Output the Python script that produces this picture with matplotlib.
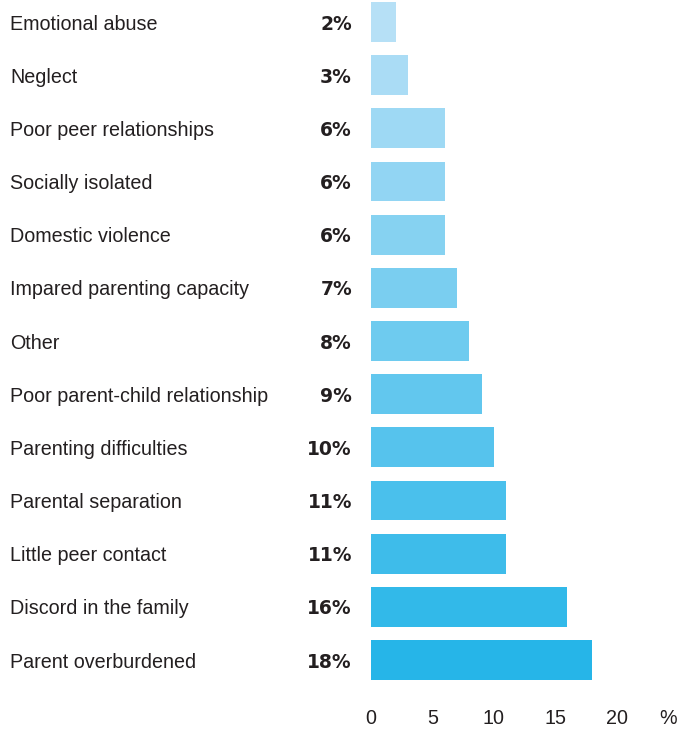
import matplotlib.pyplot as plt
import numpy as np
from matplotlib.colors import to_rgb
from matplotlib.transforms import blended_transform_factory

categories = ['Emotional abuse', 'Neglect', 'Poor peer relationships', 'Socially isolated',
              'Domestic violence', 'Impared parenting capacity', 'Other',
              'Poor parent-child relationship', 'Parenting difficulties', 'Parental separation',
              'Little peer contact', 'Discord in the family', 'Parent overburdened']
values = [2, 3, 6, 6, 6, 7, 8, 9, 10, 11, 11, 16, 18]
xticks = [0, 5, 10, 15, 20]

plt.rcParams['font.family'] = ['Liberation Sans', 'DejaVu Sans']
txt = '#231f20'

W, H = 679, 731
fig = plt.figure(figsize=(W / 100, H / 100), dpi=100)
ax = fig.add_axes([371 / W, (H - 690) / H, (W - 371) / W, 690 / H])

# light blue at the top fading to stronger blue at the bottom
c_top = np.array(to_rgb('#b6e0f6'))
c_bot = np.array(to_rgb('#26b5e8'))
n = len(values)
colors = [tuple(c_top + (c_bot - c_top) * i / (n - 1)) for i in range(n)]

y = np.arange(n)
ax.barh(y, values, height=0.75, color=colors)

ax.set_xlim(0, (W - 371) / 12.28)
ax.set_ylim(12.564, -0.414)

# labels on the left, positioned in figure x / data y
tr = blended_transform_factory(fig.transFigure, ax.transData)
for yi, cat, v in zip(y, categories, values):
    ax.text(10 / W, yi + 0.04, cat, transform=tr, fontsize=14.2, color=txt,
            ha='left', va='center')
    ax.text(352 / W, yi + 0.04, f'{v}%', transform=tr, fontsize=13.5, fontweight='bold',
            family='DejaVu Sans', color=txt, ha='right', va='center')

ax.set_xticks(xticks)
ax.set_xticklabels([str(t) for t in xticks], fontsize=14.2, color=txt)
ax.tick_params(axis='x', length=0, pad=14)
ax.set_yticks([])
fig.text(668 / W, (H - 718) / H, '%', fontsize=14.2, color=txt, ha='center', va='center')
for s in ax.spines.values():
    s.set_visible(False)

fig.savefig('out.png', dpi=100)
